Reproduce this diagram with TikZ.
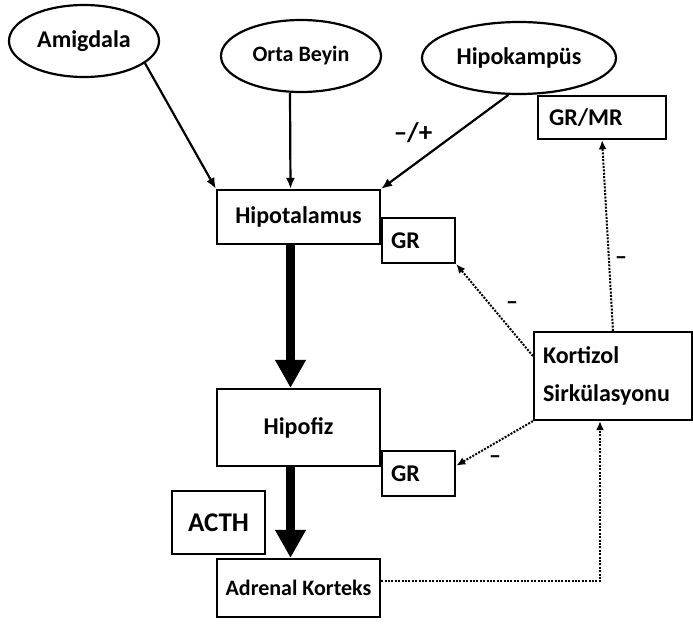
\documentclass[tikz,border=0pt]{standalone}
\usepackage{fontspec}
\setmainfont{Carlito}
\usetikzlibrary{arrows,arrows.meta,shapes,positioning}
\tikzset{
  basic/.style    = {draw, line width=2.2pt, inner sep=0pt,
                     font=\fontsize{24}{28}\selectfont\bfseries},
  brain/.style    = {basic, ellipse, minimum height=72pt},
  organ/.style    = {basic, rectangle, align=center, minimum width=163pt},
  receptor/.style = {basic, rectangle, align=left, inner xsep=9pt,
                     text width=55pt, minimum height=45pt},
  signlabel/.style = {font=\fontsize{24}{28}\selectfont\bfseries},
  signal/.style   = {-{Latex[length=11pt,width=9pt]}, line width=2.2pt},
  hormone/.style  = {-{Triangle[length=28pt,width=29pt]}, line width=9pt},
  feedback/.style = {-{Latex[length=9pt,width=8pt]}, line width=2pt,
                     dash pattern=on 2pt off 1.4pt}
}
\begin{document}
\begin{tikzpicture}[x=1pt, y=-1pt, >=latex]
\useasboundingbox (0,0) rectangle (693,624);

% beyin bolgeleri
\node[brain, minimum width=150pt] (amig) at (84,41) {Amigdala};
\node[brain, minimum width=160pt, font=\fontsize{22}{26}\selectfont\bfseries]
  (orta) at (301,56) {Orta Beyin};
\node[brain, minimum width=194pt] (hipok) at (519,58) {Hipokampüs};

% eksen
\node[organ, minimum height=54pt] (hipot) at (298.5,217) {Hipotalamus};
\node[organ, minimum height=77pt] (hipof) at (298.5,427.5) {Hipofiz};
\node[organ, minimum height=58pt, font=\fontsize{22}{26}\selectfont\bfseries]
  (adrenal) at (298.5,588) {Adrenal Korteks};
\node[basic, minimum width=93pt, minimum height=63pt,
  font=\fontsize{27}{30}\selectfont\bfseries] (acth) at (218.5,522.5) {ACTH};

% reseptorler
\node[receptor, anchor=north west] (gr1) at (hipot.east) {GR};
\node[receptor, anchor=north west, yshift=-22.5pt] (gr2) at (hipof.east) {GR};
\node[receptor, anchor=north west, xshift=18pt, text width=106pt,
  inner xsep=11pt, minimum height=43pt] (grmr) at (hipok.south) {GR/MR};

\node[basic, align=left, inner xsep=9pt, text width=140pt, minimum height=88pt,
  font=\fontsize{24}{38}\selectfont\bfseries]
  (kort) at (613,376) {Kortizol\\Sirkülasyonu};

% baglantilar
\draw[signal] (amig.-20) -- (hipot.north west);
\draw[signal] ([xshift=-11pt]orta.south) -- ([xshift=-8pt]hipot.north);
\draw[signal] (hipok.-106) -- (hipot.north east);
\node[font=\fontsize{27}{30}\selectfont\bfseries] (pm) at (413,133) {–/+};

\draw[hormone] ([xshift=-8pt]hipot.south) -- ([xshift=-8pt]hipof.north);
\draw[hormone] ([xshift=-8pt]hipof.south) -- ([xshift=-8pt]adrenal.north);

\draw[feedback] ([yshift=20pt]kort.west) -- (gr1.south east);
\draw[feedback] (kort.south west) -- ([yshift=8pt]gr2.east);
\draw[feedback] (kort.north) -- (grmr.south);
\draw[feedback] ([yshift=7pt]adrenal.east) -| ([xshift=-13pt]kort.south);

\foreach \x/\y/\n in {512/306/m1, 495/460/m2, 621/261/m3}
  \node[signlabel] (\n) at (\x,\y) {–};
\end{tikzpicture}
\end{document}
